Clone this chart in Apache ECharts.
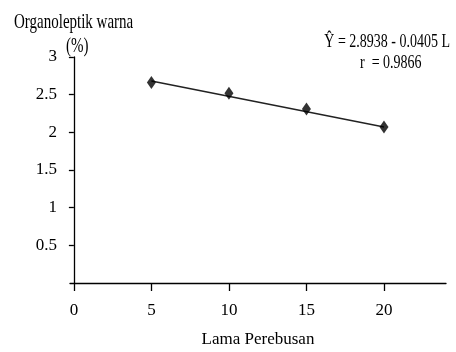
<!DOCTYPE html>
<html><head><meta charset="utf-8">
<script src="https://cdn.jsdelivr.net/npm/echarts@6/dist/echarts.min.js"></script>
<style>html,body{margin:0;padding:0;background:#fff}#c{width:456px;height:352px}</style>
</head><body><div id="c"></div>
<script>
const lamaPerebusan = [5, 10, 15, 20];
const warna = [2.66, 2.52, 2.31, 2.07];
const trendX = [5, 20];
const trendY = [2.68, 2.07];
const xTicks = [0, 5, 10, 15, 20];
const yTicks = [0.5, 1, 1.5, 2, 2.5, 3];
const yTitle = 'Organoleptik warna';
const yUnit = '(%)';
const xTitle = 'Lama Perebusan';
const eqLine1 = 'Ŷ = 2.8938 - 0.0405 L';
const eqLine2 = 'r  = 0.9866';

const F = '"Liberation Serif", "Times New Roman", serif';
function txt(s, x, y, size, align, sy) {
  return {type: 'text', x: x, y: y, scaleY: sy, originX: 0, originY: 0,
    style: {text: s, font: size + 'px ' + F, fill: '#000', textAlign: align, textVerticalAlign: 'middle'}};
}
const chart = echarts.init(document.getElementById('c'), null, {renderer: 'canvas'});
chart.setOption({
  animation: false,
  backgroundColor: '#fff',
  grid: {left: 70, right: 10, top: 57, bottom: 69, containLabel: false, outerBoundsMode: 'none'},
  xAxis: {
    type: 'value', min: -0.25, max: 24,
    name: xTitle, nameLocation: 'middle', nameGap: 48,
    nameTextStyle: {fontFamily: F, fontSize: 17, color: '#000'},
    axisLine: {lineStyle: {color: '#000', width: 1.3}},
    axisTick: {show: true, length: 8, inside: false, customValues: xTicks, lineStyle: {color: '#000', width: 1.3}},
    axisLabel: {customValues: xTicks, margin: 19, fontFamily: F, fontSize: 17, color: '#000'},
    splitLine: {show: false}
  },
  yAxis: {
    type: 'value', min: 0, max: 3,
    axisLine: {show: true, onZero: true, lineStyle: {color: '#000', width: 1.3}},
    axisTick: {show: true, length: 5, inside: false, customValues: yTicks, lineStyle: {color: '#000', width: 1.3}},
    axisLabel: {customValues: yTicks, margin: 13, fontFamily: F, fontSize: 17, color: '#000'},
    splitLine: {show: false}
  },
  series: [
    {
      type: 'line', data: trendX.map((x, i) => [x, trendY[i]]),
      symbol: 'none', lineStyle: {color: '#222', width: 1.5}, z: 2
    },
    {
      type: 'scatter', data: lamaPerebusan.map((x, i) => [x, warna[i]]),
      symbol: 'diamond', symbolSize: [9, 13],
      itemStyle: {color: '#000'}, z: 3
    }
  ],
  graphic: [
    txt(yTitle, 14, 22, 15, 'left', 1.45),
    txt(yUnit, 66, 46, 15, 'left', 1.45),
    txt(eqLine1, 450, 42, 14, 'right', 1.4),
    txt(eqLine2, 360, 63, 14, 'left', 1.4)
  ]
});
</script></body></html>
